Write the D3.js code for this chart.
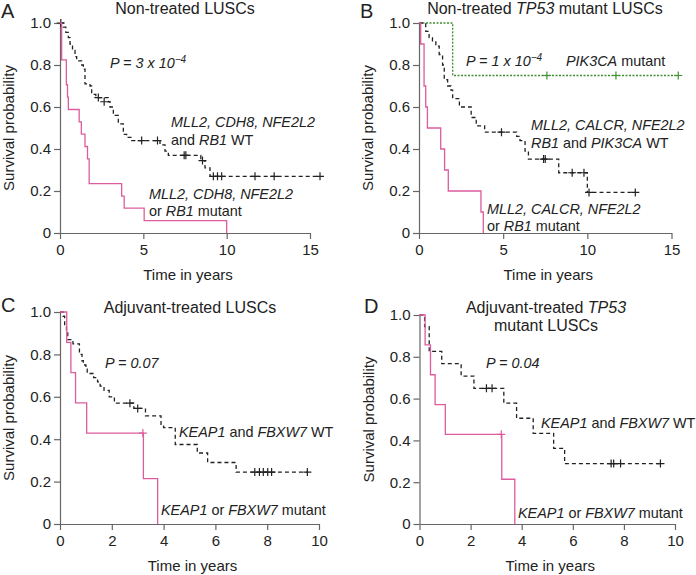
<!DOCTYPE html>
<html>
<head>
<meta charset="utf-8">
<script src="https://cdn.jsdelivr.net/npm/d3@7"></script>
<style>
  body { margin: 0; background: #fff; }
  svg text { font-family: "Liberation Sans", Arial, sans-serif; fill: #222; }
</style>
</head>
<body>
<div id="chart"></div>
<script>
const pink = "#dc5c9e";
const black = "#222";
const green = "#3d8f2f";

// A: non-treated LUSCs
const aMutSteps = [[0,1],[0.1,0.824],[0.38,0.706],[0.45,0.647],[0.5,0.588],[1.15,0.529],[1.28,0.471],[1.5,0.412],[1.65,0.353],[1.75,0.235],[3.7,0.176],[3.85,0.118],[5.05,0.059],[10,0]];
const aWtSteps = [[0,1],[0.2,0.98],[0.35,0.955],[0.5,0.93],[0.6,0.9],[0.75,0.87],[0.9,0.84],[1.0,0.82],[1.3,0.8],[1.4,0.78],[1.5,0.71],[1.8,0.7],[1.9,0.66],[2.15,0.645],[2.9,0.625],[3.0,0.6],[3.2,0.56],[3.5,0.52],[3.8,0.47],[4.0,0.455],[4.3,0.44],[6.0,0.42],[6.3,0.39],[6.5,0.37],[8.45,0.345],[8.7,0.31],[9.0,0.27],[15.6,0.27]];
const aWtCens = [[0.05,1],[2.3,0.645],[2.65,0.625],[4.9,0.44],[5.85,0.44],[7.45,0.37],[7.55,0.37],[8.55,0.345],[9.2,0.27],[9.45,0.27],[9.7,0.27],[11.7,0.27],[12.85,0.27],[15.6,0.27]];

// B: non-treated TP53 mutant LUSCs
const bPikSteps = [[0,1],[2.0,0.75],[15.4,0.75]];
const bPikCens = [[7.6,0.75],[11.7,0.75],[15.4,0.75]];
const bMutSteps = [[0,1],[0.1,0.9],[0.3,0.7],[0.4,0.6],[0.5,0.5],[1.29,0.4],[1.52,0.3],[1.74,0.2],[3.68,0.1],[3.82,0]];
const bWtSteps = [[0,1],[0.4,0.96],[0.6,0.93],[0.8,0.91],[1.0,0.89],[1.2,0.85],[1.4,0.8],[1.5,0.73],[1.7,0.7],[1.9,0.68],[2.0,0.64],[2.4,0.6],[3.1,0.55],[3.4,0.51],[3.9,0.48],[5.8,0.46],[6.0,0.44],[6.3,0.39],[6.5,0.352],[8.3,0.287],[10.0,0.193],[12.85,0.193]];
const bWtCens = [[4.9,0.48],[7.4,0.352],[7.5,0.352],[9.1,0.287],[9.8,0.287],[10.1,0.193],[12.85,0.193]];

// C: adjuvant-treated LUSCs
const cMutSteps = [[0,1],[0.26,0.857],[0.42,0.714],[0.6,0.571],[1.03,0.429],[3.22,0.214],[3.77,0]];
const cMutCens = [[3.2,0.429]];
const cWtSteps = [[0,1],[0.12,0.98],[0.18,0.94],[0.25,0.91],[0.3,0.87],[0.5,0.85],[0.75,0.8],[0.85,0.77],[0.9,0.75],[1.0,0.73],[1.05,0.71],[1.3,0.69],[1.45,0.67],[1.55,0.65],[1.7,0.63],[1.9,0.6],[2.1,0.57],[2.85,0.545],[3.3,0.51],[3.9,0.47],[4.0,0.455],[4.45,0.375],[5.3,0.335],[5.7,0.29],[6.8,0.245],[9.55,0.245]];
const cWtCens = [[2.7,0.57],[3.0,0.545],[7.52,0.245],[7.7,0.245],[7.85,0.245],[8.02,0.245],[8.17,0.245],[9.55,0.245]];

// D: adjuvant-treated TP53 mutant LUSCs
const dMutSteps = [[0,1],[0.22,0.857],[0.43,0.714],[0.61,0.571],[1.01,0.429],[3.22,0.214],[3.73,0]];
const dMutCens = [[3.2,0.429]];
const dWtSteps = [[0,1],[0.2,0.944],[0.38,0.826],[0.87,0.767],[1.63,0.708],[2.13,0.649],[3.3,0.578],[3.8,0.506],[4.45,0.434],[5.25,0.362],[5.68,0.289],[9.43,0.289]];
const dWtCens = [[2.62,0.649],[2.84,0.649],[7.5,0.289],[7.6,0.289],[7.87,0.289],[9.43,0.289]];

const yTicks = [0, 0.2, 0.4, 0.6, 0.8, 1.0];
const xTicks15 = [0, 5, 10, 15];
const xTicks10 = [0, 2, 4, 6, 8, 10];

const svg = d3.select("#chart").append("svg")
    .attr("width", 696)
    .attr("height", 575);

// write text made of plain / italic pieces
function rich(g, x, y, segs, size, anchor) {
    const t = g.append("text")
        .attr("x", x).attr("y", y)
        .attr("font-size", size || 14.4)
        .attr("text-anchor", anchor || "start");
    segs.forEach(s => {
        const sp = t.append("tspan").text(s.t);
        if (s.i) sp.attr("font-style", "italic");
        if (s.sup) sp.attr("font-size", 10).attr("baseline-shift", "super");
    });
    return t;
}

function panel(p) {
    const g = svg.append("g");
    const x = d3.scaleLinear().domain([0, p.xMax]).range([p.left, p.right]);
    const y = d3.scaleLinear().domain([0, 1]).range([p.bottom, p.top]);

    const xa = g.append("g")
        .attr("transform", `translate(0,${p.bottom})`)
        .call(d3.axisBottom(x).tickValues(p.xTicks).tickSize(6).tickSizeOuter(0).tickPadding(5));
    const ya = g.append("g")
        .attr("transform", `translate(${p.left},0)`)
        .call(d3.axisLeft(y).tickValues(yTicks).tickSize(6).tickSizeOuter(0).tickPadding(3)
            .tickFormat(d => d === 0 ? "0" : d3.format(".1f")(d)));
    [xa, ya].forEach(a => {
        a.selectAll("path, line").attr("stroke", "#666").attr("stroke-width", 1.2);
        a.selectAll("text").attr("font-size", 15).attr("fill", "#222")
            .attr("font-family", "'Liberation Sans', Arial, sans-serif");
    });

    g.append("text")
        .attr("x", (p.left + p.right) / 2 + 3).attr("y", p.bottom + 47)
        .attr("text-anchor", "middle").attr("font-size", 15)
        .text("Time in years");
    g.append("text")
        .attr("transform", `translate(${p.left - 46},${(p.top + p.bottom) / 2}) rotate(-90)`)
        .attr("text-anchor", "middle").attr("font-size", 15)
        .text("Survival probability");

    const line = d3.line().x(d => x(d[0])).y(d => y(d[1])).curve(d3.curveStepAfter);
    p.series.forEach(s => {
        g.append("path")
            .datum(s.steps)
            .attr("d", line)
            .attr("fill", "none")
            .attr("stroke", s.color)
            .attr("stroke-width", s.width || 1.3)
            .attr("stroke-dasharray", s.dash || null);
        g.selectAll(null)
            .data(s.cens || [])
            .enter().append("path")
            .attr("d", d => `M${x(d[0]) - 4},${y(d[1])}h8M${x(d[0])},${y(d[1]) - 4}v8`)
            .attr("stroke", s.color)
            .attr("stroke-width", 1.2);
    });

    g.append("text")
        .attr("x", p.letter[0]).attr("y", p.letter[1])
        .attr("font-size", 20)
        .text(p.letter[2]);
    p.texts.forEach(t => rich(g, t.x, t.y, t.segs, t.size, t.anchor));
}

panel({
    left: 60, right: 310, top: 23, bottom: 233, xMax: 15, xTicks: xTicks15,
    letter: [1, 18, "A"],
    series: [
        { steps: aWtSteps, cens: aWtCens, color: black, dash: "4,3" },
        { steps: aMutSteps, color: pink }
    ],
    texts: [
        { x: 185, y: 14, size: 16, anchor: "middle", segs: [{ t: "Non-treated LUSCs" }] },
        { x: 110, y: 68, segs: [{ t: "P = 3 x 10", i: true }, { t: "\u22124", i: true, sup: true }] },
        { x: 171, y: 127, segs: [{ t: "MLL2, CDH8, NFE2L2", i: true }] },
        { x: 171, y: 145, segs: [{ t: "and " }, { t: "RB1", i: true }, { t: " WT" }] },
        { x: 149, y: 199, segs: [{ t: "MLL2, CDH8, NFE2L2", i: true }] },
        { x: 149, y: 216, segs: [{ t: "or " }, { t: "RB1", i: true }, { t: " mutant" }] }
    ]
});

panel({
    left: 419, right: 671.5, top: 23, bottom: 233, xMax: 15, xTicks: xTicks15,
    letter: [360, 18, "B"],
    series: [
        { steps: bPikSteps, cens: bPikCens, color: green, dash: "2,1.5" },
        { steps: bWtSteps, cens: bWtCens, color: black, dash: "4,3" },
        { steps: bMutSteps, color: pink }
    ],
    texts: [
        { x: 545, y: 14, size: 16, anchor: "middle", segs: [{ t: "Non-treated " }, { t: "TP53", i: true }, { t: " mutant LUSCs" }] },
        { x: 466, y: 66, segs: [{ t: "P = 1 x 10", i: true }, { t: "\u22124", i: true, sup: true }] },
        { x: 566, y: 66, segs: [{ t: "PIK3CA", i: true }, { t: " mutant" }] },
        { x: 531, y: 130, segs: [{ t: "MLL2, CALCR, NFE2L2", i: true }] },
        { x: 531, y: 148, segs: [{ t: "RB1", i: true }, { t: " and " }, { t: "PIK3CA", i: true }, { t: " WT" }] },
        { x: 487, y: 214, segs: [{ t: "MLL2, CALCR, NFE2L2", i: true }] },
        { x: 487, y: 231, segs: [{ t: "or " }, { t: "RB1", i: true }, { t: " mutant" }] }
    ]
});

panel({
    left: 60, right: 319, top: 312, bottom: 524, xMax: 10, xTicks: xTicks10,
    letter: [1, 312, "C"],
    series: [
        { steps: cWtSteps, cens: cWtCens, color: black, dash: "4,3" },
        { steps: cMutSteps, cens: cMutCens, color: pink }
    ],
    texts: [
        { x: 190, y: 313, size: 16, anchor: "middle", segs: [{ t: "Adjuvant-treated LUSCs" }] },
        { x: 105, y: 368, segs: [{ t: "P = 0.07", i: true }] },
        { x: 179, y: 437, segs: [{ t: "KEAP1", i: true }, { t: " and " }, { t: "FBXW7", i: true }, { t: " WT" }] },
        { x: 161, y: 515, segs: [{ t: "KEAP1", i: true }, { t: " or " }, { t: "FBXW7", i: true }, { t: " mutant" }] }
    ]
});

panel({
    left: 419.5, right: 675, top: 315, bottom: 524, xMax: 10, xTicks: xTicks10,
    letter: [364, 313, "D"],
    series: [
        { steps: dWtSteps, cens: dWtCens, color: black, dash: "4,3" },
        { steps: dMutSteps, cens: dMutCens, color: pink }
    ],
    texts: [
        { x: 546, y: 313, size: 16, anchor: "middle", segs: [{ t: "Adjuvant-treated " }, { t: "TP53", i: true }] },
        { x: 546, y: 331, size: 16, anchor: "middle", segs: [{ t: "mutant LUSCs" }] },
        { x: 486, y: 368, segs: [{ t: "P = 0.04", i: true }] },
        { x: 541, y: 428, segs: [{ t: "KEAP1", i: true }, { t: " and " }, { t: "FBXW7", i: true }, { t: " WT" }] },
        { x: 518, y: 518, segs: [{ t: "KEAP1", i: true }, { t: " or " }, { t: "FBXW7", i: true }, { t: " mutant" }] }
    ]
});
</script>
</body>
</html>
